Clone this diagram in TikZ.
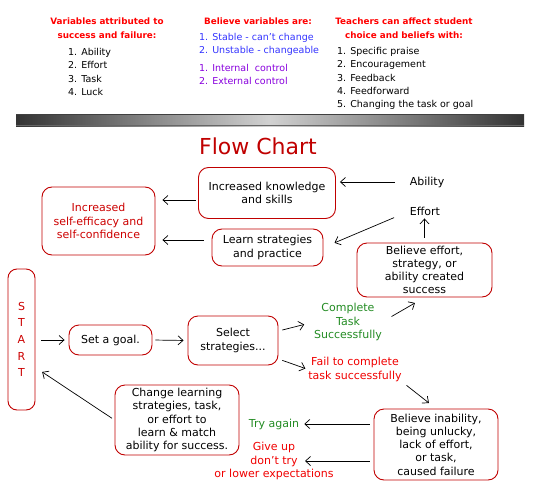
\documentclass[tikz,border=0pt]{standalone}
\usepackage{fontspec}
\setmainfont{DejaVu Sans}
\usetikzlibrary{arrows.meta}
\definecolor{boxred}{RGB}{192,0,0}
\definecolor{headred}{RGB}{255,0,0}
\definecolor{startred}{RGB}{204,0,0}
\definecolor{listblue}{RGB}{51,51,255}
\definecolor{listpurple}{RGB}{136,0,221}
\definecolor{okgreen}{RGB}{34,139,34}
\definecolor{failred}{RGB}{240,0,0}
\tikzset{
  head/.style={font=\fontsize{8.8}{14}\selectfont\bfseries, text=headred, align=center, inner sep=0pt},
  list/.style={font=\fontsize{9.5}{13.3}\selectfont, align=left, anchor=west, inner sep=0pt},
  flowbox/.style={draw=boxred, line width=0.9pt, rounded corners=10pt, align=center, inner sep=0pt,
    font=\fontsize{11}{13.2}\selectfont},
  flowtext/.style={align=center, inner sep=0pt, font=\fontsize{11}{13.2}\selectfont},
  arr/.style={-{Straight Barb[length=5pt,width=9pt]}, line width=0.7pt, shorten <=4pt, shorten >=4pt},
}
\begin{document}
\begin{tikzpicture}[x=1pt,y=-1pt]
\useasboundingbox (0,0) rectangle (540,500);
% what the variables are
\node[head] (varhead) at (107,28) {Variables attributed to\\success and failure:};
\node[list] (varlist) at (68,72) {1. Ability\\2. Effort\\3. Task\\4. Luck};
\node[head] (believehead) at (258,21) {Believe variables are:};
\node[list, text=listblue] (stablelist) at (199,44.5) {1. Stable - can’t change\\2. Unstable - changeable};
\node[list, text=listpurple] (controllist) at (199,74.5) {1. Internal\ \ control\\2. External control};
\node[head] (teachhead) at (404,28) {Teachers can affect student\\choice and beliefs with:};
\node[list] (teachlist) at (337,78.5) {1. Specific praise\\2. Encouragement\\3. Feedback\\4. Feedforward\\5. Changing the task or goal};
% grey bar
\shade[left color=black!80, right color=black!80, middle color=black!18] (16,114) rectangle (524,126);
\draw[black!75, line width=1pt] (16,114.5) -- (524,114.5);
\draw[black!60, line width=1pt] (16,125.5) -- (524,125.5);
% flow chart
\node[font=\fontsize{22}{24}\selectfont, text=boxred, inner sep=0pt] (title) at (258,146) {Flow Chart};
\node[flowbox, minimum width=137pt, minimum height=51pt] (know) at (267,193) {Increased knowledge\\and skills};
\node[flowbox, minimum width=113pt, minimum height=68pt, text=startred] (selfeff) at (98.5,221) {Increased\\self-efficacy and\\self-confidence};
\node[flowbox, minimum width=111pt, minimum height=37pt] (learn) at (267.5,247.5) {Learn strategies\\and practice};
\node[flowtext] (ability) at (427,182) {Ability};
\node[flowtext] (effort) at (425,211) {Effort};
\node[flowbox, minimum width=135pt, minimum height=54pt] (believeS) at (424.5,270) {Believe effort,\\strategy, or\\ability created\\success};
\node[draw=boxred, line width=0.9pt, rounded corners=9pt, minimum width=27pt, minimum height=141pt,
  align=center, inner sep=0pt, text=startred, font=\fontsize{11}{16.7}\selectfont] (start) at (21.5,339.5) {S\\T\\A\\R\\T};
\node[flowbox, minimum width=83pt, minimum height=30pt] (goal) at (110.5,340) {Set a goal.};
\node[flowbox, minimum width=90pt, minimum height=49pt] (select) at (233,340.5) {Select\\strategies...};
\node[flowtext, text=okgreen] (complete) at (348,322) {Complete\\Task\\Successfully};
\node[flowtext, text=failred] (fail) at (355,369.5) {Fail to complete\\task successfully};
\node[flowbox, minimum width=124pt, minimum height=71pt] (believeF) at (436,444.5) {Believe inability,\\being unlucky,\\lack of effort,\\or task,\\caused failure};
\node[flowtext, text=okgreen] (tryagain) at (274,424) {Try again};
\node[flowtext, text=failred] (giveup) at (274,461) {Give up\\don’t try\\or lower expectations};
\node[flowbox, minimum width=124pt, minimum height=70pt] (change) at (177,420) {Change learning\\strategies, task,\\or effort to\\learn \& match\\ability for success.};
% arrows
\draw[arr, shorten <=15pt] (ability.west) -- (know.east |- ability.west);
\draw[arr, shorten <=2.5pt, shorten >=7pt] ([yshift=-7pt]know.west) -- ([yshift=-7pt]know.west -| selfeff.east);
\draw[arr, shorten <=8pt, shorten >=7pt] ([yshift=7.5pt]learn.west) -- ([yshift=7.5pt]learn.west -| selfeff.east);
\draw[arr, shorten <=17pt, shorten >=12pt] (effort.west) -- (learn.east);
\draw[arr, shorten <=5pt, shorten >=3pt] (believeS.north) -- (believeS.north |- effort.south);
\draw[arr, shorten <=6pt] (start.east |- goal.west) -- (goal.west);
\draw[arr, shorten <=3pt] (goal.east) -- (select.west);
\draw[arr, shorten >=10pt] ([yshift=9.5pt]select.east) -- (complete.west);
\draw[arr, shorten <=11pt, shorten >=11pt] (complete.east) -- (believeS.south);
\draw[arr, shorten >=3pt] ([yshift=-18.5pt]select.east) -- (fail.west);
\draw[arr, shorten <=6pt, shorten >=9pt] (fail.south east) -- (believeF.north);
\draw[arr, shorten >=5pt] (believeF.west |- tryagain.east) -- (tryagain.east);
\draw[arr, shorten >=0pt] (believeF.west |- giveup.center) -- ([xshift=31pt]giveup.center);
\draw[arr, shorten <=3pt, shorten >=8pt] (change.west) -- ([yshift=-28pt]start.east);
\end{tikzpicture}
\end{document}
